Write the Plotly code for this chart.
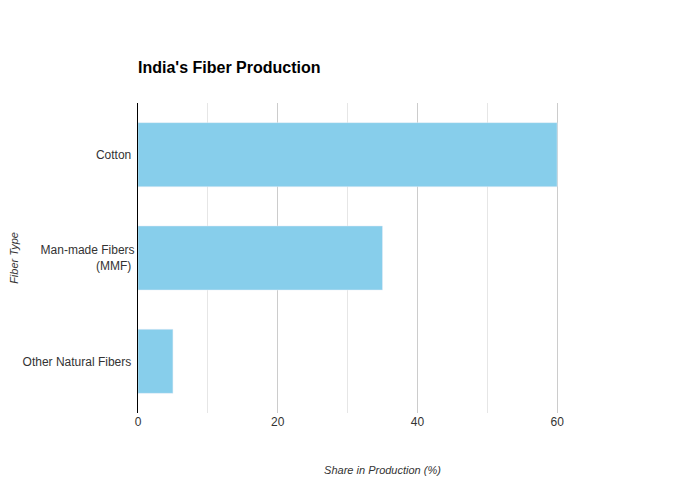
import plotly.graph_objects as go

fibers = ["Cotton", "Man-made Fibers<br>(MMF)", "Other Natural Fibers"]
share = [60, 35, 5]

fig = go.Figure(go.Bar(
    x=share, y=fibers, orientation="h",
    marker=dict(color="#87CEEB"), width=0.62,
))

fig.update_layout(
    width=680, height=500,
    plot_bgcolor="white", paper_bgcolor="white",
    margin=dict(l=130, r=61, t=95, b=95, autoexpand=False),
    font=dict(family="Arial, Liberation Sans, sans-serif", size=12, color="#333"),
    title=dict(text="<b>India's Fiber Production</b>", x=0, xref="paper",
               y=0.882, yref="container", yanchor="middle",
               font=dict(size=16, color="#000")),
    showlegend=False,
    bargap=0.38,
)
fig.update_xaxes(
    range=[0, 70], dtick=20, showgrid=True, gridcolor="#cccccc",
    minor=dict(dtick=10, showgrid=True, gridcolor="#e6e6e6"),
    zeroline=False, automargin=False,
    title=dict(text="<i>Share in Production (%)</i>", font=dict(size=11), standoff=38),
)
fig.update_yaxes(
    autorange="reversed", showline=True, linecolor="#000", linewidth=1,
    automargin=False,
    title=dict(text="<i>Fiber Type</i>", font=dict(size=11), standoff=115),
    ticksuffix=" ",
)

fig.write_html("out.html")
